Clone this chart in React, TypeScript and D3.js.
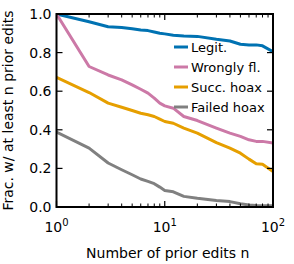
import React, { useEffect, useRef } from "react";
import * as d3 from "d3";

const nValues = [1, 2, 3, 4, 5, 6, 7, 8, 9, 10, 12, 15, 20, 30, 40, 50, 60, 70, 80, 100];
const legitValues = [1.0, 0.96, 0.934, 0.93, 0.924, 0.917, 0.914, 0.907, 0.9, 0.897, 0.89, 0.886, 0.884, 0.869, 0.86, 0.843, 0.84, 0.84, 0.835, 0.805];
const wronglyValues = [1.0, 0.728, 0.684, 0.659, 0.633, 0.61, 0.59, 0.564, 0.538, 0.524, 0.512, 0.469, 0.448, 0.409, 0.383, 0.366, 0.348, 0.34, 0.34, 0.331];
const succHoaxValues = [0.672, 0.593, 0.538, 0.517, 0.5, 0.486, 0.478, 0.469, 0.455, 0.443, 0.434, 0.409, 0.383, 0.334, 0.305, 0.279, 0.248, 0.224, 0.221, 0.184];
const failedHoaxValues = [0.388, 0.305, 0.228, 0.193, 0.167, 0.145, 0.133, 0.121, 0.103, 0.086, 0.079, 0.055, 0.045, 0.034, 0.028, 0.017, 0.01, 0.008, 0.007, 0.007];
const seriesNames = ["Legit.", "Wrongly fl.", "Succ. hoax", "Failed hoax"];
const seriesColors = ["#0072B2", "#CC79A7", "#E69F00", "#808080"];
const yTicks = [0, 0.2, 0.4, 0.6, 0.8, 1.0];
const xMajorTicks = [1, 10, 100];
const xTickExps = ["0", "1", "2"];

const App = () => {
  const svgRef: any = useRef();

  useEffect(() => {
    const svg = d3.select(svgRef.current);
    svg.selectAll("*").remove();
    const width = 294;
    const height = 264;
    const margin = { top: 14, right: 21, bottom: 57, left: 56.5 };
    const font = "DejaVu Sans, sans-serif";

    const x = d3.scaleLog().domain([1, 100]).range([margin.left, width - margin.right]);
    const y = d3.scaleLinear().domain([0, 1]).range([height - margin.bottom, margin.top]);
    const [x0, x1] = x.range();
    const [y0, y1] = y.range();

    svg.append("defs").append("clipPath").attr("id", "plotclip")
      .append("rect").attr("x", x0).attr("y", y1).attr("width", x1 - x0).attr("height", y0 - y1);

    const allSeries = [legitValues, wronglyValues, succHoaxValues, failedHoaxValues];
    const line = d3.line<number>()
      .x((_, i) => x(nValues[i]))
      .y((d) => y(d));

    const g = svg.append("g").attr("clip-path", "url(#plotclip)");
    allSeries.forEach((vals, i) => {
      g.append("path")
        .attr("d", line(vals))
        .attr("fill", "none")
        .attr("stroke", seriesColors[i])
        .attr("stroke-width", 3)
        .attr("stroke-linejoin", "round");
    });

    // ticks (inside, all four sides)
    const ticks = svg.append("g").attr("stroke", "#000");
    yTicks.forEach((t) => {
      ticks.append("line").attr("x1", x0).attr("x2", x0 + 6).attr("y1", y(t)).attr("y2", y(t)).attr("stroke-width", 1.2);
      ticks.append("line").attr("x1", x1).attr("x2", x1 - 6).attr("y1", y(t)).attr("y2", y(t)).attr("stroke-width", 1.2);
    });
    const minor: number[] = [];
    [1, 10].forEach((dec) => {
      for (let k = 2; k <= 9; k++) minor.push(dec * k);
    });
    xMajorTicks.forEach((t) => {
      ticks.append("line").attr("x1", x(t)).attr("x2", x(t)).attr("y1", y0).attr("y2", y0 - 6).attr("stroke-width", 1.2);
      ticks.append("line").attr("x1", x(t)).attr("x2", x(t)).attr("y1", y1).attr("y2", y1 + 6).attr("stroke-width", 1.2);
    });
    minor.forEach((t) => {
      ticks.append("line").attr("x1", x(t)).attr("x2", x(t)).attr("y1", y0).attr("y2", y0 - 3.5).attr("stroke-width", 1);
      ticks.append("line").attr("x1", x(t)).attr("x2", x(t)).attr("y1", y1).attr("y2", y1 + 3.5).attr("stroke-width", 1);
    });

    // frame
    svg.append("rect")
      .attr("x", x0).attr("y", y1).attr("width", x1 - x0).attr("height", y0 - y1)
      .attr("fill", "none").attr("stroke", "#000").attr("stroke-width", 2);

    // y tick labels
    svg.selectAll(".ylab").data(yTicks).join("text")
      .attr("class", "ylab")
      .attr("x", x0 - 5)
      .attr("y", (d) => y(d))
      .attr("dy", "0.36em")
      .attr("text-anchor", "end")
      .attr("font-family", font)
      .attr("font-size", 14)
      .text((d) => d.toFixed(1));

    // x tick labels with superscript
    xMajorTicks.forEach((t, i) => {
      const txt = svg.append("text")
        .attr("x", x(t))
        .attr("y", 232)
        .attr("text-anchor", "middle")
        .attr("font-family", font)
        .attr("font-size", 14);
      txt.append("tspan").text("10");
      txt.append("tspan").attr("dy", -6).attr("font-size", 10).text(xTickExps[i]);
    });

    // axis labels
    svg.append("text")
      .attr("x", (x0 + x1) / 2 + 3)
      .attr("y", 258)
      .attr("text-anchor", "middle")
      .attr("font-family", font)
      .attr("font-size", 14)
      .text("Number of prior edits n");

    svg.append("text")
      .attr("transform", `translate(13,${(y0 + y1) / 2}) rotate(-90)`)
      .attr("text-anchor", "middle")
      .attr("font-family", font)
      .attr("font-size", 14)
      .text("Frac. w/ at least n prior edits");

    // legend
    const legend = svg.append("g");
    seriesNames.forEach((name, i) => {
      const ly = 47 + i * 20;
      legend.append("line")
        .attr("x1", 174).attr("x2", 188).attr("y1", ly).attr("y2", ly)
        .attr("stroke", seriesColors[i]).attr("stroke-width", 3);
      legend.append("text")
        .attr("x", 191).attr("y", ly).attr("dy", "0.36em")
        .attr("font-family", font).attr("font-size", 13)
        .text(name);
    });
  }, []);

  return (
    <div style={{ position: "fixed", left: 0, top: 0 }}>
      <svg ref={svgRef} width={294} height={264} style={{ display: "block", background: "#fff" }}></svg>
    </div>
  );
};

export default App;
